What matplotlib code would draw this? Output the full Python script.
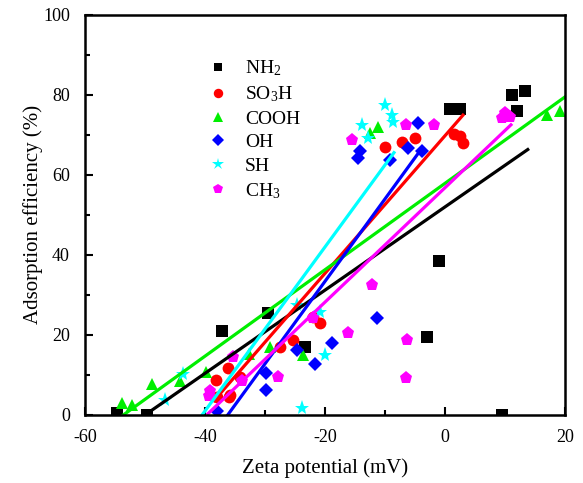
import numpy as np
import matplotlib
matplotlib.use("Agg")
import matplotlib.pyplot as plt
from matplotlib.ticker import MultipleLocator

plt.rcParams['font.family'] = ['Liberation Serif', 'DejaVu Serif']
plt.rcParams['mathtext.fontset'] = 'custom'
plt.rcParams['mathtext.rm'] = 'Liberation Serif'
plt.rcParams['mathtext.it'] = 'Liberation Serif:italic'
plt.rcParams['axes.unicode_minus'] = False

# zeta potential (mV) / adsorption efficiency (%)
nh2_x = [-54.7, -49.7, -37.2, -29.5, -23.3, -3.0, -1.0, 0.8, 2.5, 9.5, 11.2, 12.0, 13.3]
nh2_y = [0.5, 0.0, 21.0, 25.5, 17.0, 19.5, 38.5, 76.5, 76.5, 0.0, 80.0, 76.0, 81.0]

so3h_x = [-38.2, -38.0, -36.0, -35.8, -36.2, -34.2, -27.5, -25.3, -22.0, -20.8, -10.0, -7.2, -5.0, 1.5, 2.5, 3.0]
so3h_y = [8.8, 4.5, 4.5, 5.0, 11.8, 9.5, 17.0, 18.8, 24.5, 23.0, 67.0, 68.3, 69.3, 70.3, 69.8, 68.0]

cooh_x = [-53.8, -52.2, -48.8, -44.2, -39.8, -32.7, -29.2, -23.7, -12.5, -11.2, 17.0, 19.2]
cooh_y = [3.0, 2.5, 7.8, 8.5, 10.8, 15.3, 17.0, 15.0, 70.5, 72.0, 75.0, 76.0]

oh_x = [-38.0, -29.8, -29.8, -24.7, -21.7, -18.8, -11.3, -14.5, -14.2, -9.2, -6.2, -3.8, -4.5]
oh_y = [1.0, 10.5, 6.3, 16.3, 12.8, 18.0, 24.3, 64.3, 66.0, 63.8, 66.8, 66.0, 73.0]

sh_x = [-46.7, -43.7, -24.6, -20.8, -20.0, -23.8, -13.8, -12.8, -10.0, -8.8, -8.6]
sh_y = [3.8, 10.3, 27.5, 25.8, 15.0, 1.8, 72.5, 69.3, 77.5, 75.0, 73.3]

ch3_x = [-39.4, -39.2, -35.4, -33.8, -27.8, -22.0, -16.2, -12.2, -6.3, -6.5, -15.5, -6.5, -1.8, 9.5, 10.0, 10.8]
ch3_y = [4.8, 6.0, 14.5, 8.5, 9.5, 24.3, 20.5, 32.5, 18.8, 9.3, 68.8, 72.5, 72.5, 74.3, 75.5, 74.5]

# linear fits as drawn: slope, intercept, x range
fit_slope = [1.04, 1.72, 1.08, 2.06, 2.05, 1.43]
fit_icpt = [52.0, 69.8, 57.9, 74.6, 83.0, 56.8]
fit_x0 = [-55.0, -38.5, -54.0, -38.0, -47.0, -39.5]
fit_x1 = [13.8, 3.0, 20.0, -4.5, -8.5, 11.0]

labels = ['NH$_2$', 'SO$_3$H', 'COOH', 'OH', 'SH', 'CH$_3$']
colors = ['black', 'red', '#00ee00', 'blue', 'cyan', 'magenta']
markers = ['s', 'o', '^', 'D', '*', 'p']
sizes = [8, 8.5, 8.5, 7.5, 11, 9.5]

xs = [nh2_x, so3h_x, cooh_x, oh_x, sh_x, ch3_x]
ys = [nh2_y, so3h_y, cooh_y, oh_y, sh_y, ch3_y]

fig = plt.figure(figsize=(5.83, 4.83), dpi=100)
ax = fig.add_axes([0.146, 0.141, 0.823, 0.828])

for i in range(6):
    ax.plot(xs[i], ys[i], linestyle='none', marker=markers[i], color=colors[i],
            markersize=sizes[i], markeredgewidth=0, label=labels[i])

for i in range(6):
    lx = np.array([fit_x0[i], fit_x1[i]])
    ax.plot(lx, fit_slope[i] * lx + fit_icpt[i], color=colors[i], lw=2.3)

ax.set_xlim(-60, 20)
ax.set_ylim(0, 100)
ax.xaxis.set_major_locator(MultipleLocator(20))
ax.xaxis.set_minor_locator(MultipleLocator(10))
ax.yaxis.set_major_locator(MultipleLocator(20))
ax.yaxis.set_minor_locator(MultipleLocator(10))
ax.tick_params(which='both', direction='in', top=False, right=False, width=1.5, labelsize=13)
ax.tick_params(which='major', length=6)
ax.tick_params(which='minor', length=3.5)
ax.tick_params(axis='y', which='major', pad=11)
ax.tick_params(axis='x', which='major', pad=10)
for s in ax.spines.values():
    s.set_linewidth(1.8)

ax.set_xlabel('Zeta potential (mV)', fontsize=15, labelpad=9)
ax.set_ylabel('Adsorption efficiency (%)', fontsize=15, labelpad=0)

ax.legend(loc='upper left', bbox_to_anchor=(0.228, 0.925), frameon=False, fontsize=14,
          handlelength=1.0, handletextpad=0.9, labelspacing=0.31, borderpad=0.2,
          markerscale=0.8)

fig.savefig('out.png', dpi=100)
